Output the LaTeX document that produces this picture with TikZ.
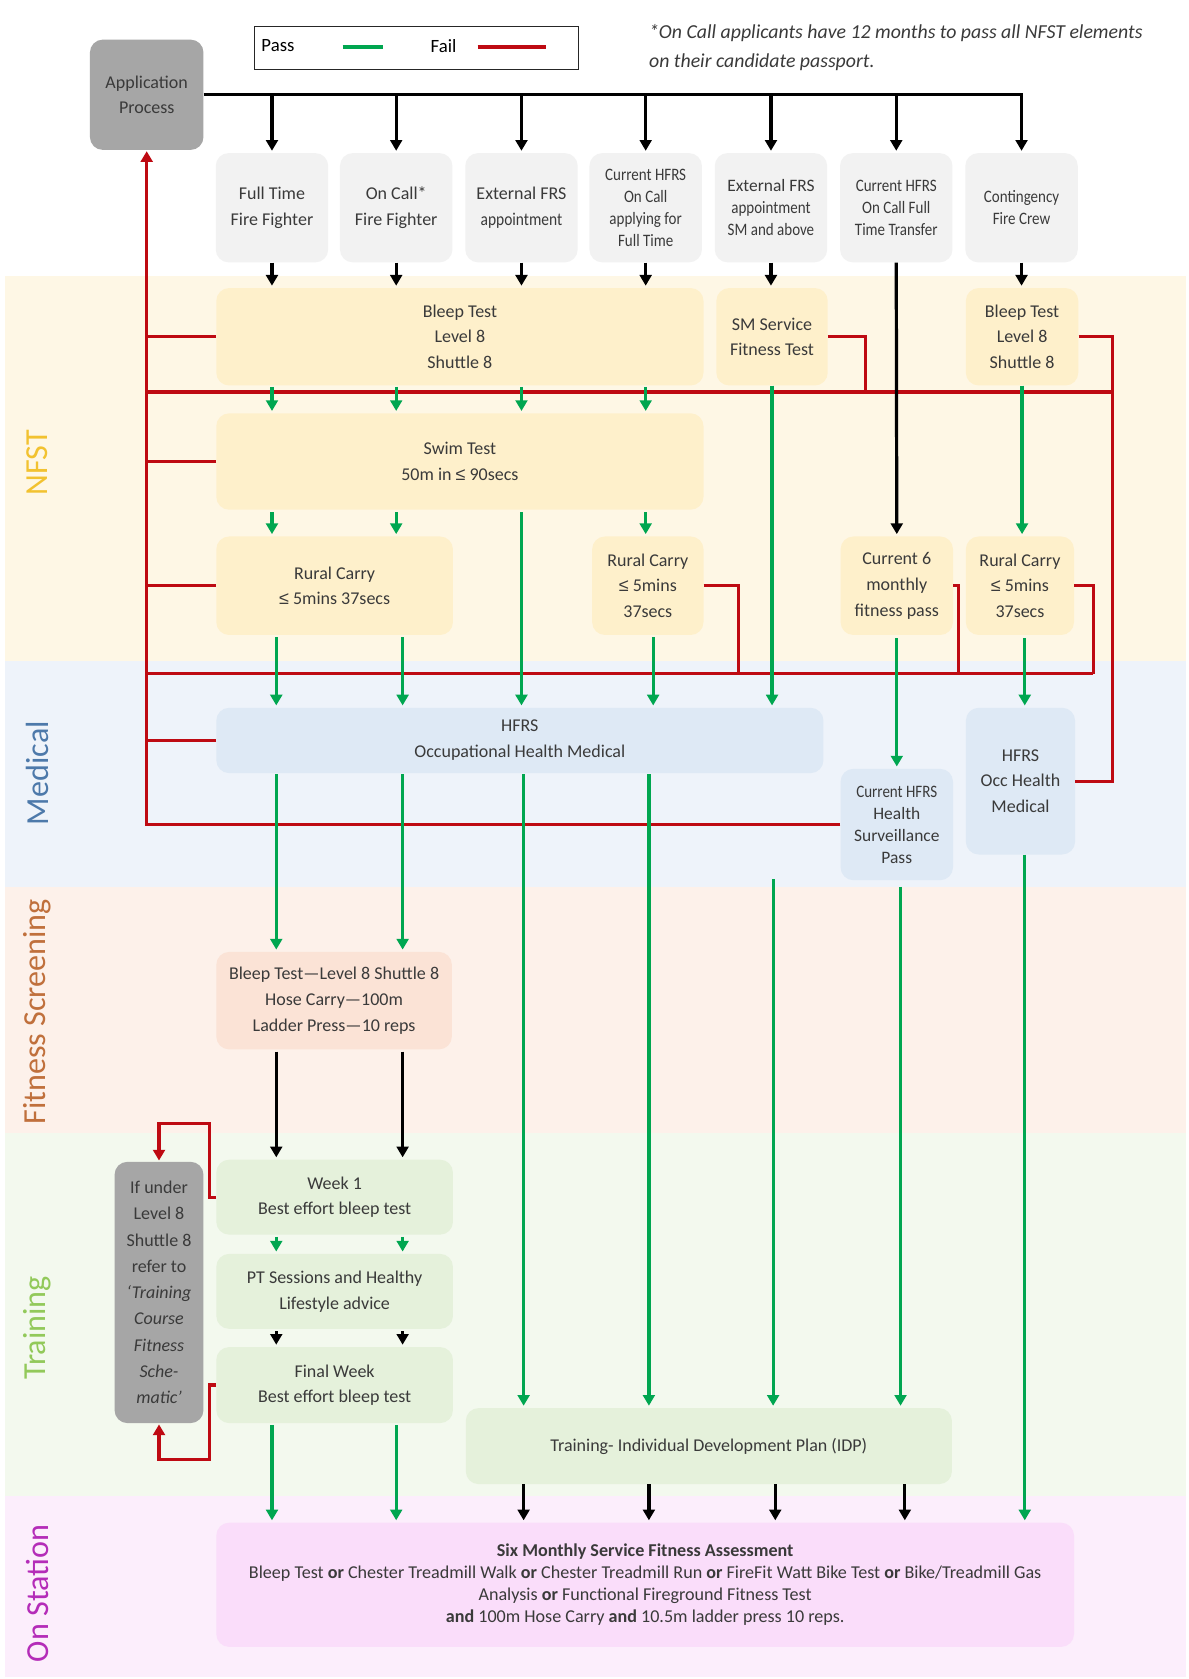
\documentclass[tikz,border=0pt]{standalone}
\usepackage{fontspec}
\setmainfont{Carlito}
\newfontfamily\cond[FakeStretch=0.86]{Carlito}
\newfontfamily\symf{Liberation Sans}
\newcommand\lesign{{\symf ≤}}
\usetikzlibrary{arrows.meta,calc}
\definecolor{nfstband}{HTML}{FEF7E5}
\definecolor{nfstbox}{HTML}{FEF0CB}
\definecolor{medband}{HTML}{EEF3FA}
\definecolor{medbox}{HTML}{DEE9F5}
\definecolor{fitband}{HTML}{FDF1EA}
\definecolor{fitbox}{HTML}{FBE3D6}
\definecolor{trband}{HTML}{F3F9EE}
\definecolor{trbox}{HTML}{E5F1DB}
\definecolor{osband}{HTML}{FCEEFC}
\definecolor{osbox}{HTML}{FADDFA}
\definecolor{topbox}{HTML}{F2F2F2}
\definecolor{greybox}{HTML}{A6A6A6}
\definecolor{gr}{HTML}{00A650}
\definecolor{rd}{HTML}{BE0A12}
\definecolor{txt}{HTML}{3A3A3A}
\definecolor{labnfst}{HTML}{F2C230}
\definecolor{labmed}{HTML}{4D79AA}
\definecolor{labfit}{HTML}{C0703C}
\definecolor{labtr}{HTML}{92C95A}
\definecolor{labos}{HTML}{B42CB8}
\tikzset{
  box/.style={rounded corners=12pt, inner sep=0pt, align=center, text=txt,
    font=\fontsize{16.8}{24}\selectfont},
  tbox/.style={box, fill=topbox, minimum width=105, minimum height=102},
  condtxt/.style={font=\cond\fontsize{16.3}{20.5}\selectfont},
  bandlab/.style={rotate=90, inner sep=0pt, font=\fontsize{30}{30}\selectfont},
  tip/.style={-{Triangle[width=11pt,length=10pt]}},
  flow/.style={draw=black, line width=3pt, tip, shorten >=2pt},
  pass/.style={draw=gr, line width=3pt, tip, shorten >=2pt},
  fail/.style={draw=rd, line width=3pt},
  failarrow/.style={draw=rd, line width=3pt, tip, shorten >=1pt},
}
\begin{document}
\begin{tikzpicture}[x=1pt,y=-1pt]
\useasboundingbox (0,0) rectangle (1110,1568);
\fill[white] (0,0) rectangle (1110,1568);
% bands
\fill[nfstband] (5,258) rectangle (1108,617);
\fill[medband] (5,617) rectangle (1108,828);
\fill[fitband] (5,828) rectangle (1108,1058);
\fill[trband] (5,1058) rectangle (1108,1397);
\fill[osband] (5,1397) rectangle (1108,1566);
\node[bandlab, text=labnfst] (lNFST) at (35,432) {NFST};
\node[bandlab, text=labmed] (lMED) at (35,722) {Medical};
\node[bandlab, text=labfit] (lFIT) at (35,945) {Fitness Screening};
\node[bandlab, text=labtr] (lTR) at (35,1240) {Training};
\node[bandlab, text=labos] (lOS) at (35,1488) {On Station};
% legend and note
\node[draw=black!85, line width=1pt, minimum width=302, minimum height=40, inner sep=0pt] (legend) at (389,45) {};
\node[anchor=west, inner sep=0pt, text=black, font=\fontsize{17.5}{20}\selectfont] (lpass) at (244,43) {Pass};
\node[anchor=west, inner sep=0pt, text=black, font=\fontsize{17.5}{20}\selectfont] (lfail) at (402,43) {Fail};
\draw[gr, line width=4pt] (320,44) -- (358,44);
\draw[rd, line width=4pt] (446,44) -- (510,44);
\node[anchor=west, inner sep=0pt, align=left, text=txt, font=\itshape\fontsize{18.5}{27}\selectfont] (note) at (606,44)
  {*On Call applicants have 12 months to pass all NFST elements\\on their candidate passport.};
% application
\node[box, fill=greybox, minimum width=106, minimum height=103] (app) at (137,88.5) {Application\\Process};
% top boxes
\node[tbox] (top1) at (254,194) {Full Time\\Fire Fighter};
\node[tbox] (top2) at (370,194) {On Call*\\Fire Fighter};
\node[tbox] (top3) at (487,194) {External FRS\\{\cond appointment}};
\node[tbox, condtxt] (top4) at (603,194) {Current HFRS\\On Call\\applying for\\Full Time};
\node[tbox, condtxt] (top5) at (720,194) {{\normalfont External FRS}\\appointment\\SM and above};
\node[tbox, condtxt] (top6) at (837,194) {Current HFRS\\On Call Full\\Time Transfer};
\node[tbox, condtxt] (top7) at (954,194) {Contingency\\Fire Crew};
% NFST
\node[box, fill=nfstbox, minimum width=455, minimum height=91] (bleep) at (429.5,314.5) {Bleep Test\\Level 8\\Shuttle 8};
\node[box, fill=nfstbox, minimum width=104, minimum height=91] (sm) at (721,314.5) {SM Service\\Fitness Test};
\node[box, fill=nfstbox, minimum width=105, minimum height=91] (cbleep) at (954.5,314.5) {Bleep Test\\Level 8\\Shuttle 8};
\node[box, fill=nfstbox, minimum width=455, minimum height=90] (swim) at (429.5,431) {Swim Test\\50m in \lesign{} 90secs};
\node[box, fill=nfstbox, minimum width=221, minimum height=92] (rural1) at (312.5,547) {Rural Carry\\\lesign{} 5mins 37secs};
\node[box, fill=nfstbox, minimum width=104, minimum height=92] (rural2) at (605,547) {Rural Carry\\\lesign{} 5mins\\37secs};
\node[box, fill=nfstbox, minimum width=105, minimum height=92] (cur6) at (837.5,547) {Current 6\\monthly\\fitness pass};
\node[box, fill=nfstbox, minimum width=101, minimum height=92] (rural3) at (952.5,547) {Rural Carry\\\lesign{} 5mins\\37secs};
% Medical
\node[box, fill=medbox, minimum width=567, minimum height=61] (hfrs) at (485.5,691.5) {HFRS\\Occupational Health Medical};
\node[box, fill=medbox, minimum width=105, minimum height=104, font=\fontsize{16.3}{20.5}\selectfont] (surv) at (837.5,770) {{\cond Current HFRS}\\Health\\Surveillance\\Pass};
\node[box, fill=medbox, minimum width=102, minimum height=137] (hocc) at (953,729.5) {HFRS\\Occ Health\\Medical};
% Fitness screening
\node[box, fill=fitbox, minimum width=220, minimum height=91] (fit) at (312,934.5) {Bleep Test—Level 8 Shuttle 8\\Hose Carry—100m\\Ladder Press—10 reps};
% Training
\node[box, fill=trbox, minimum width=221, minimum height=70] (week1) at (312.5,1118) {Week 1\\Best effort bleep test};
\node[box, fill=trbox, minimum width=221, minimum height=70] (pt) at (312.5,1206) {PT Sessions and Healthy\\Lifestyle advice};
\node[box, fill=trbox, minimum width=221, minimum height=71] (final) at (312.5,1293.5) {Final Week\\Best effort bleep test};
\node[box, fill=greybox, minimum width=83, minimum height=244, font=\fontsize{16.8}{24.5}\selectfont] (grey) at (148.5,1207)
  {If under\\Level 8\\Shuttle 8\\refer to\\\textit{‘Training}\\\textit{Course}\\\textit{Fitness}\\\textit{Sche-}\\\textit{matic’}};
\node[box, fill=trbox, minimum width=454, minimum height=71] (idp) at (662,1350.5) {Training- Individual Development Plan (IDP)};
% On station
\node[box, fill=osbox, minimum width=801, minimum height=116, font=\fontsize{16.9}{20.7}\selectfont] (onst) at (602.5,1480)
  {\textbf{Six Monthly Service Fitness Assessment}\\
   Bleep Test \textbf{or} Chester Treadmill Walk \textbf{or} Chester Treadmill Run \textbf{or} FireFit Watt Bike Test \textbf{or} Bike/Treadmill Gas\\
   Analysis \textbf{or} Functional Fireground Fitness Test\\
   \textbf{and} 100m Hose Carry \textbf{and} 10.5m ladder press 10 reps.};
% column coordinates
\coordinate (la) at (258,0);
\coordinate (lb) at (376,0);
\coordinate (lc) at (489,0);
\coordinate (ld) at (606,0);
\coordinate (le) at (724,0);
\coordinate (lf) at (841,0);
\coordinate (lg) at (957,0);
\coordinate (lh) at (845,0);
\coordinate (lr2) at (610,0);
\coordinate (smgap) at (722,821);
\coordinate (bus1L) at (137,366);
\coordinate (bus1R) at (1039,366);
\coordinate (bus2L) at (137,629);
\coordinate (bus2R) at (1021,629);
\coordinate (smdrop) at (808,366);
\coordinate (r2drop) at (690,629);
\coordinate (c6drop) at (895,629);
\coordinate (loopA) at (196,1049);
\coordinate (loopB) at (196,1363);
% ---------- fail (red) ----------
\draw[fail] (bus1L) -- (bus1R);
\draw[fail] (bus2L) -- (bus2R);
\draw[fail] (bleep.west) -- (app.south |- bleep.west);
\draw[fail] (swim.west) -- (app.south |- swim.west);
\draw[fail] (rural1.west) -- (app.south |- rural1.west);
\draw[fail] (hfrs.west) -- (app.south |- hfrs.west);
\draw[failarrow] (surv.west) -| (app.south);
\draw[fail] (sm.east) -| (smdrop);
\draw[fail] (cbleep.east) -| (hocc.east -| bus1R) -- (hocc.east);
\draw[fail] (rural2.east) -| (r2drop);
\draw[fail] (cur6.east) -| (c6drop);
\draw[fail] (rural3.east) -| (bus2R);
\draw[failarrow] (week1.west) -| (loopA) -| (grey.north);
\draw[failarrow] (final.west) -| (loopB) -| (grey.south);
% ---------- pass (green) ----------
\foreach \t in {top1,top2,top3,top4}
  \draw[pass] (\t.south |- bleep.south) ++(0,1) -- (\t.south |- swim.north);
\foreach \t in {top1,top2}
  \draw[pass] (\t.south |- swim.south) ++(0,2) -- (\t.south |- rural1.north);
\draw[pass] (top4.south |- swim.south) ++(0,2) -- (top4.south |- rural2.north);
\draw[pass] (top3.south |- swim.south) ++(0,2) -- (top3.south |- hfrs.north);
\draw[pass] (sm.south) -- (sm.south |- hfrs.north);
\draw[pass] (cbleep.south) -- (cbleep.south |- rural3.north);
\draw[pass] (la |- rural1.south) ++(0,2) -- (la |- hfrs.north);
\draw[pass] (lb |- rural1.south) ++(0,2) -- (lb |- hfrs.north);
\draw[pass] (lr2 |- rural2.south) ++(0,2) -- (lr2 |- hfrs.north);
\draw[pass] (cur6.south) ++(0,3) -- (surv.north);
\draw[pass] (lg |- rural3.south) ++(0,3) -- (lg |- hocc.north);
\draw[pass] (la |- hfrs.south) ++(0,1) -- (la |- fit.north);
\draw[pass] (lb |- hfrs.south) ++(0,1) -- (lb |- fit.north);
\draw[pass] (lc |- hfrs.south) ++(0,1) -- (lc |- idp.north);
\draw[pass] (ld |- hfrs.south) ++(0,1) -- (ld |- idp.north);
\draw[pass] (smgap) -- (smgap |- idp.north);
\draw[pass] (lf |- surv.south) ++(0,6) -- (lf |- idp.north);
\draw[pass] (lg |- hocc.south) -- (lg |- onst.north);
\draw[pass] (la |- week1.south) ++(0,2) -- (la |- pt.north);
\draw[pass] (lb |- week1.south) ++(0,2) -- (lb |- pt.north);
\draw[pass] (top1.south |- final.south) ++(0,2) -- (top1.south |- onst.north);
\draw[pass] (top2.south |- final.south) ++(0,2) -- (top2.south |- onst.north);
% ---------- flow (black) ----------
\draw[flow] (app.east) -| (top7.north);
\foreach \t in {top1,top2,top3,top4,top5,top6}
  \draw[flow] (\t.north |- app.east) -- (\t.north);
\foreach \t in {top1,top2,top3,top4}
  \draw[flow] (\t.south) -- (\t.south |- bleep.north);
\draw[flow] (top5.south) -- (top5.south |- sm.north);
\draw[flow] (top7.south) -- (top7.south |- cbleep.north);
\draw[flow] (top6.south) -- (cur6.north);
\draw[flow] (la |- fit.south) ++(0,2) -- (la |- week1.north);
\draw[flow] (lb |- fit.south) ++(0,2) -- (lb |- week1.north);
\draw[flow] (la |- pt.south) ++(0,2) -- (la |- final.north);
\draw[flow] (lb |- pt.south) ++(0,2) -- (lb |- final.north);
\draw[flow] (lc |- idp.south) -- (lc |- onst.north);
\draw[flow] (ld |- idp.south) -- (ld |- onst.north);
\draw[flow] (le |- idp.south) -- (le |- onst.north);
\draw[flow] (lh |- idp.south) -- (lh |- onst.north);
\end{tikzpicture}
\end{document}
